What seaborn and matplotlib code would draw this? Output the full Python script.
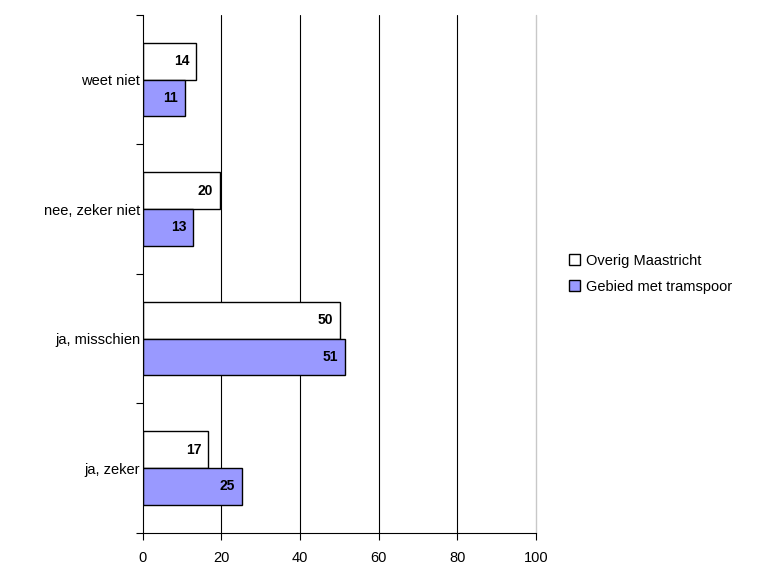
import pandas as pd
import matplotlib
matplotlib.use('Agg')
import matplotlib.pyplot as plt
import seaborn as sns

categories = ['weet niet', 'nee, zeker niet', 'ja, misschien', 'ja, zeker']
series = ['Overig Maastricht', 'Gebied met tramspoor']
overig = [13.6, 19.5, 50.1, 16.6]
tramspoor = [10.6, 12.8, 51.4, 25.2]
colors = ['#FFFFFF', '#9999FF']

df = pd.DataFrame({
    'categorie': categories * 2,
    'groep': [series[0]] * 4 + [series[1]] * 4,
    'waarde': overig + tramspoor,
})

sns.set_style('white')
plt.rcParams['font.family'] = ['Liberation Sans', 'DejaVu Sans']
plt.rcParams['text.color'] = 'black'
plt.rcParams['xtick.color'] = 'black'
plt.rcParams['ytick.color'] = 'black'

fig = plt.figure(figsize=(7.81, 5.68), dpi=100)
ax = fig.add_axes([0.183, 0.062, 0.503, 0.912])

sns.barplot(data=df, y='categorie', x='waarde', hue='groep', order=categories,
            hue_order=series, palette=colors, saturation=1, orient='h', width=0.57,
            edgecolor='black', linewidth=1, ax=ax)

for cont in ax.containers:
    txts = ax.bar_label(cont, labels=[f'{v:.0f}' for v in cont.datavalues],
                        padding=-5, fontsize=10, fontweight='bold')
    for t in txts:
        t.set_ha('right')

ax.set_xlim(0, 100)
ax.set_ylim(3.5, -0.5)
ax.set_xticks([0, 20, 40, 60, 80, 100])
ax.set_xticklabels(['0', '20', '40', '60', '80', '100'], fontsize=10.5)
ax.set_yticks([-0.5, 0.5, 1.5, 2.5, 3.5])
ax.set_yticklabels([])
ax.set_yticks(range(4), minor=True)
ax.set_yticklabels(categories, minor=True, fontsize=10.5)
ax.tick_params(axis='y', which='major', left=True, length=5, width=0.8, direction='out')
ax.tick_params(axis='y', which='minor', left=False, length=0, pad=2)
ax.tick_params(axis='x', bottom=True, length=5, width=0.8, direction='out', pad=8)
ax.set_xlabel('')
ax.set_ylabel('')

for x in [20, 40, 60, 80]:
    ax.axvline(x, color='black', linewidth=0.8, zorder=0)
ax.axvline(100, color='#C8C8C8', linewidth=1, zorder=0, clip_on=False)

for s in ['top', 'right']:
    ax.spines[s].set_visible(False)
for s in ['left', 'bottom']:
    ax.spines[s].set_color('black')
    ax.spines[s].set_linewidth(0.8)

ax.legend(loc='center left', bbox_to_anchor=(1.05, 0.5), frameon=False,
          fontsize=10.5, handlelength=0.8, handleheight=0.8, handletextpad=0.4,
          labelspacing=0.8)

fig.savefig('out.png', dpi=100)
